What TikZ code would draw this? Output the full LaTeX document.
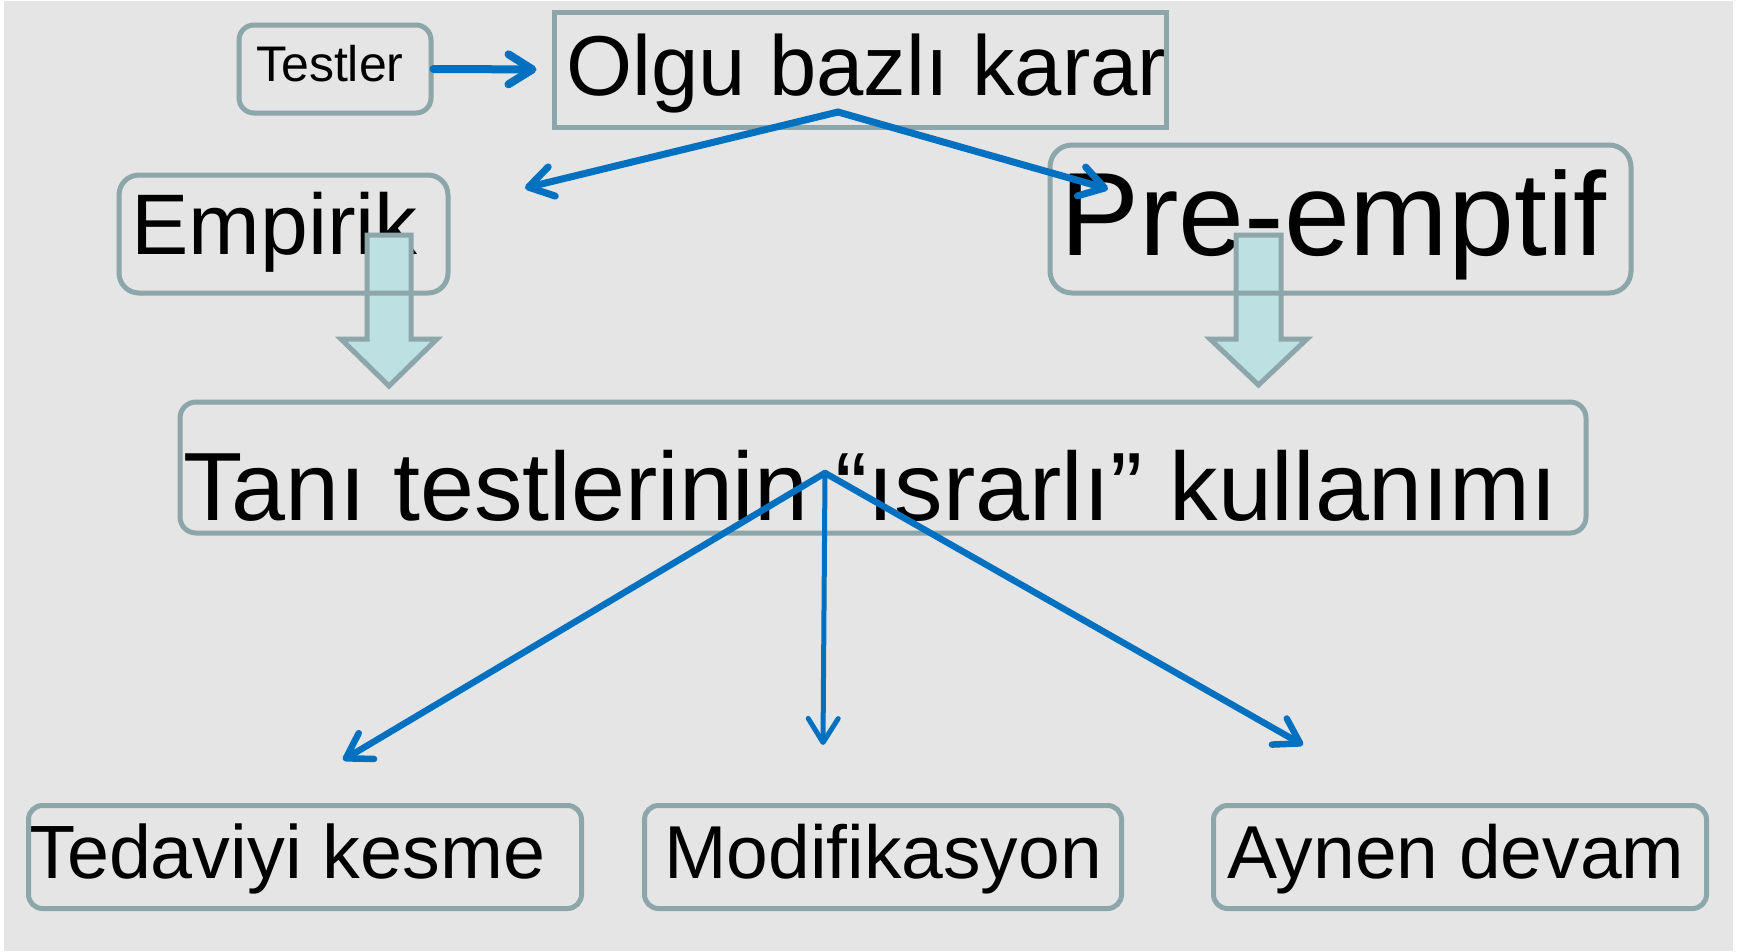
\documentclass[tikz,border=0pt]{standalone}
\usepackage{fontspec}
\setmainfont{Liberation Sans}
\usetikzlibrary{arrows.meta}
\definecolor{bgcol}{HTML}{E5E5E5}
\definecolor{edgecol}{HTML}{8CA6A9}
\definecolor{blockfill}{HTML}{BDE0E3}
\definecolor{flowblue}{HTML}{0070C0}
\tikzset{
  lbl/.style={anchor=base west, inner sep=0pt, text=black},
  boxbase/.style={draw=edgecol, line width=5pt, inner sep=0pt, fill=none},
  sqbox/.style={boxbase},
  rbox/.style={boxbase, rounded corners=#1},
  blockarrow/.style={draw=edgecol, fill=blockfill, line width=5pt, line join=miter},
  conn/.style={draw=flowblue, line width=#1, line cap=round,
    -{Straight Barb[length=24pt,width=30pt,round]}},
}
\begin{document}
\begin{tikzpicture}[x=1pt,y=-1pt]
\useasboundingbox (0,0) rectangle (1747,951);
\fill[bgcol] (4,1) rectangle (1733,951);

% texts
\node[lbl, font=\fontsize{50}{52}\selectfont] (ttestler) at (256,81) {Testler};
\node[lbl, font=\fontsize{85}{90}\selectfont] (tolgu) at (566,95) {Olgu bazlı karar};
\node[lbl, font=\fontsize{86}{90}\selectfont] (tempirik) at (131,254) {Empirik};
\node[lbl, font=\fontsize{118.5}{120}\selectfont] (tpre) at (1060,255) {Pre-emptif};
\node[lbl, font=\fontsize{97}{100}\selectfont] (ttani) at (183,520) {Tanı testlerinin “ısrarlı” kullanımı};
\node[lbl, font=\fontsize{75.5}{80}\selectfont] (tted) at (29,878) {Tedaviyi kesme};
\node[lbl, font=\fontsize{75}{80}\selectfont] (tmod) at (664,878) {Modifikasyon};
\node[lbl, font=\fontsize{75}{80}\selectfont] (tayn) at (1227,878) {Aynen devam};

% block arrows
\draw[blockarrow] (367,235) -- (411,235) -- (411,339) -- (437,339) -- (389,386) -- (341,339) -- (367,339) -- cycle;
\draw[blockarrow] (1236,235) -- (1281,235) -- (1281,339) -- (1307,339) -- (1258.5,385) -- (1210,339) -- (1236,339) -- cycle;

% boxes
\node[rbox=15pt, minimum width=192pt, minimum height=88pt] (testler) at (335,69) {};
\node[sqbox, minimum width=612pt, minimum height=115pt] (olgu) at (860,69.5) {};
\node[rbox=20pt, minimum width=329pt, minimum height=118pt] (empirik) at (283.5,234) {};
\node[rbox=22pt, minimum width=581pt, minimum height=148pt] (pre) at (1340.5,219) {};
\node[rbox=16pt, minimum width=1406pt, minimum height=131pt] (tani) at (883,467.5) {};
\node[rbox=14pt, minimum width=553pt, minimum height=103pt] (ted) at (305,857) {};
\node[rbox=14pt, minimum width=477pt, minimum height=103pt] (mod) at (883,857) {};
\node[rbox=14pt, minimum width=493pt, minimum height=103pt] (ayn) at (1460,857) {};

% connector points
\coordinate (olgufork) at (838,112);
\coordinate (empin) at (525,188);
\coordinate (prein) at (1108,189);
\coordinate (tanifork) at (825,473);
\coordinate (tedin) at (343,760);
\coordinate (modin) at (823,745);
\coordinate (aynin) at (1303,745);

% connectors
\draw[conn=8pt, shorten >=15pt] (testler.east) -- (olgu.west);
\draw[conn=7pt] (olgufork) -- (empin);
\draw[conn=7pt] (olgufork) -- (prein);
\draw[conn=6.5pt] (tanifork) -- (tedin);
\draw[conn=5pt] (tanifork) -- (modin);
\draw[conn=6.5pt] (tanifork) -- (aynin);
\end{tikzpicture}
\end{document}
